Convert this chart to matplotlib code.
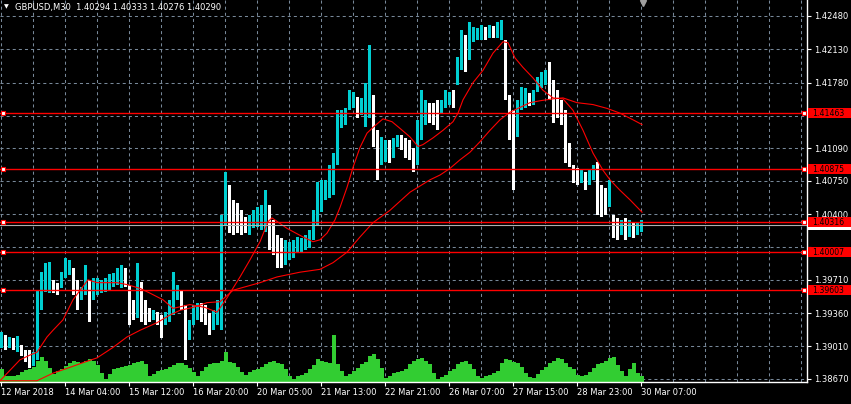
import matplotlib
matplotlib.use("Agg")
import matplotlib.pyplot as plt
from matplotlib.patches import Rectangle
import numpy as np

plt.rcParams['lines.scale_dashes'] = False
plt.rcParams['font.family'] = ['DejaVu Sans']

# GBPUSD M30 - one sample every 4 bars (high / low of the candles)
high = [1.3916, 1.3913, 1.3911, 1.3910, 1.3912, 1.3903, 1.3897, 1.3897, 1.3895, 1.3960,
        1.3979, 1.3989, 1.3990, 1.3971, 1.3968, 1.3979, 1.3994, 1.3992, 1.3983, 1.3971,
        1.3963, 1.3987, 1.3971, 1.3973, 1.3973, 1.3971, 1.3973, 1.3977, 1.3978, 1.3983,
        1.3987, 1.3983, 1.3966, 1.3950, 1.3989, 1.3969, 1.3950, 1.3941, 1.3939, 1.3937,
        1.3934, 1.3937, 1.3950, 1.3979, 1.3966, 1.3960, 1.3945, 1.3929, 1.3945, 1.3947,
        1.3947, 1.3945, 1.3936, 1.3939, 1.3950, 1.4039, 1.4084, 1.4071, 1.4055, 1.4052,
        1.4044, 1.4037, 1.4039, 1.4044, 1.4047, 1.4050, 1.4065, 1.4050, 1.4034, 1.4018,
        1.4015, 1.4013, 1.4011, 1.4013, 1.4016, 1.4015, 1.4018, 1.4023, 1.4044, 1.4074,
        1.4076, 1.4076, 1.4092, 1.4104, 1.4149, 1.4149, 1.4151, 1.4170, 1.4168, 1.4163,
        1.4162, 1.4178, 1.4218, 1.4165, 1.4128, 1.4121, 1.4118, 1.4118, 1.4120, 1.4123,
        1.4123, 1.4120, 1.4118, 1.4109, 1.4139, 1.4170, 1.4160, 1.4157, 1.4157, 1.4160,
        1.4160, 1.4170, 1.4168, 1.4170, 1.4205, 1.4233, 1.4228, 1.4242, 1.4236, 1.4235,
        1.4239, 1.4236, 1.4239, 1.4238, 1.4242, 1.4244, 1.4223, 1.4165, 1.4149, 1.4160,
        1.4173, 1.4172, 1.4167, 1.4170, 1.4184, 1.4189, 1.4191, 1.4200, 1.4181, 1.4170,
        1.4160, 1.4149, 1.4115, 1.4092, 1.4088, 1.4086, 1.4084, 1.4086, 1.4092, 1.4095,
        1.4071, 1.4067, 1.4076, 1.4039, 1.4036, 1.4034, 1.4036, 1.4034, 1.4032, 1.4032,
        1.4034]
low = [1.3899, 1.3897, 1.3899, 1.3897, 1.3895, 1.3891, 1.3885, 1.3878, 1.3880, 1.3887,
       1.3939, 1.3958, 1.3957, 1.3957, 1.3955, 1.3962, 1.3973, 1.3976, 1.3955, 1.3939,
       1.3950, 1.3955, 1.3927, 1.3950, 1.3955, 1.3957, 1.3958, 1.3960, 1.3963, 1.3966,
       1.3962, 1.3963, 1.3924, 1.3929, 1.3931, 1.3927, 1.3924, 1.3927, 1.3929, 1.3924,
       1.3910, 1.3924, 1.3927, 1.3934, 1.3950, 1.3939, 1.3887, 1.3908, 1.3924, 1.3929,
       1.3927, 1.3924, 1.3913, 1.3918, 1.3924, 1.3918, 1.4029, 1.4020, 1.4018, 1.4020,
       1.4018, 1.4020, 1.4018, 1.4025, 1.4026, 1.4023, 1.4021, 1.4002, 1.3997, 1.3983,
       1.3983, 1.3987, 1.3992, 1.3994, 1.3999, 1.4000, 1.4002, 1.4004, 1.4013, 1.4029,
       1.4042, 1.4055, 1.4057, 1.4060, 1.4092, 1.4130, 1.4134, 1.4149, 1.4151, 1.4141,
       1.4144, 1.4131, 1.4141, 1.4110, 1.4076, 1.4092, 1.4095, 1.4094, 1.4099, 1.4110,
       1.4107, 1.4099, 1.4097, 1.4084, 1.4092, 1.4118, 1.4134, 1.4136, 1.4134, 1.4128,
       1.4146, 1.4151, 1.4155, 1.4151, 1.4176, 1.4191, 1.4189, 1.4202, 1.4221, 1.4223,
       1.4223, 1.4223, 1.4225, 1.4225, 1.4225, 1.4223, 1.4160, 1.4118, 1.4065, 1.4121,
       1.4149, 1.4151, 1.4153, 1.4155, 1.4168, 1.4172, 1.4176, 1.4160, 1.4136, 1.4141,
       1.4134, 1.4094, 1.4089, 1.4073, 1.4071, 1.4073, 1.4065, 1.4071, 1.4076, 1.4039,
       1.4037, 1.4039, 1.4047, 1.4015, 1.4013, 1.4018, 1.4013, 1.4016, 1.4015, 1.4018,
       1.4021]
volume = [1260, 580, 600, 650, 750, 1000, 1200, 1300, 1500, 2100,
          2500, 2100, 1400, 800, 1100, 1300, 1600, 1900, 2100, 2000,
          1900, 2100, 2300, 2100, 1700, 900, 300, 850, 1260, 1400,
          1500, 1600, 1700, 1900, 2000, 2100, 1800, 600, 850, 1100,
          1200, 1300, 1500, 1700, 1900, 1950, 1700, 1400, 1000, 600,
          1100, 1500, 1770, 1900, 1950, 2100, 3000, 2000, 1900, 1500,
          1000, 750, 1000, 1200, 1300, 1500, 1770, 2000, 2100, 1950,
          1770, 1260, 600, 300, 650, 750, 900, 1260, 1700, 2300,
          2100, 2000, 1950, 4700, 1770, 1100, 600, 850, 1100, 1400,
          1770, 2000, 2600, 2800, 2300, 1400, 400, 600, 900, 1000,
          1100, 1300, 1770, 2100, 2300, 2400, 2100, 1770, 900, 300,
          500, 750, 1100, 1300, 1770, 2000, 2100, 1770, 1300, 650,
          400, 600, 750, 900, 1100, 1900, 2300, 2200, 2000, 1900,
          1500, 900, 500, 400, 850, 1200, 1500, 1900, 2100, 2400,
          2300, 1900, 1500, 1260, 750, 600, 750, 1000, 1400, 1770,
          1950, 2100, 2400, 2460, 1700, 1100, 600, 1260, 1950, 900,
          650]

# moving averages (bar number, price)
fast_bar = [0, 10, 20, 30, 37, 47, 53, 63, 73, 80, 88, 97, 117, 127, 140, 150, 163, 173, 190, 205,
            217, 227, 240, 250, 260, 268, 272, 287, 303, 313, 320, 327, 335, 340, 347, 353, 360, 367,
            373, 383, 392, 400, 410, 418, 423, 433, 443, 453, 458, 463, 473, 483, 493, 503, 508, 515,
            523, 533, 543, 553, 563, 573, 583, 593, 603, 610, 620, 630, 642]
fast_ma = [1.3865, 1.3876, 1.3887, 1.3892, 1.3895, 1.3911, 1.3918, 1.3929, 1.3950, 1.3960,
           1.3971, 1.3968, 1.3968, 1.3966, 1.3962, 1.3957, 1.3950, 1.3941, 1.3945, 1.3942,
           1.3937, 1.3952, 1.3974, 1.3992, 1.4011, 1.4032, 1.4036, 1.4025, 1.4016, 1.4011,
           1.4013, 1.4020, 1.4034, 1.4047, 1.4068, 1.4089, 1.4110, 1.4125, 1.4131, 1.4140,
           1.4137, 1.4130, 1.4121, 1.4111, 1.4113, 1.4120, 1.4128, 1.4137, 1.4146, 1.4160,
           1.4178, 1.4191, 1.4209, 1.4221, 1.4220, 1.4204, 1.4194, 1.4183, 1.4170, 1.4162,
           1.4161, 1.4149, 1.4128, 1.4104, 1.4086, 1.4076, 1.4065, 1.4055, 1.4042]
slow_bar = [0, 37, 53, 67, 83, 97, 113, 127, 140, 157, 170, 180, 193, 207, 220, 233, 243, 260, 277,
            300, 320, 333, 347, 360, 373, 390, 410, 430, 440, 450, 460, 470, 480, 490, 500, 510,
            520, 530, 540, 553, 563, 577, 593, 607, 620, 633, 642]
slow_ma = [1.3865, 1.3865, 1.3873, 1.3878, 1.3884, 1.3889, 1.3900, 1.3911, 1.3918, 1.3926,
           1.3934, 1.3939, 1.3942, 1.3947, 1.3948, 1.3960, 1.3963, 1.3968, 1.3974, 1.3979,
           1.3982, 1.3989, 1.4000, 1.4016, 1.4031, 1.4044, 1.4063, 1.4076, 1.4081, 1.4088,
           1.4097, 1.4105, 1.4116, 1.4128, 1.4139, 1.4147, 1.4152, 1.4157, 1.4159, 1.4161,
           1.4162, 1.4157, 1.4155, 1.4151, 1.4146, 1.4139, 1.4134]

levels = [1.41463, 1.40875, 1.40316, 1.40007, 1.39603]
bid = 1.40290
price_ticks = [1.42480, 1.42130, 1.41780, 1.41430, 1.41090, 1.40750, 1.40400,
               1.40050, 1.39710, 1.39360, 1.39010, 1.38670]
hidden_ticks = [1.41430, 1.40050]   # covered by the level labels
time_labels = ['12 Mar 2018', '14 Mar 04:00', '15 Mar 12:00', '16 Mar 20:00',
               '20 Mar 05:00', '21 Mar 13:00', '22 Mar 21:00', '26 Mar 07:00',
               '27 Mar 15:00', '28 Mar 23:00', '30 Mar 07:00']
title = 'GBPUSD,M30  1.40294 1.40333 1.40276 1.40290'

W, H = 851, 404
fig = plt.figure(figsize=(W / 100, H / 100), dpi=100, facecolor='black')
rect = [0, 22 / H, 807 / W, 382 / H]
xmax = 807
ymin, ymax = 1.38637, 1.42648
grid_col = '#778899'
dash = (0, (2.2, 2.2))

# grid (bottom layer)
gax = fig.add_axes(rect)
gax.set_facecolor('black')
gax.set_xlim(0, xmax)
gax.set_ylim(ymin, ymax)
gax.axis('off')
for x in range(1, xmax, 32):
    gax.axvline(x, color=grid_col, lw=0.75, ls=dash)
for p in price_ticks:
    gax.axhline(p, color=grid_col, lw=0.75, ls=dash)

# volumes
vax = fig.add_axes(rect)
vax.patch.set_alpha(0)
vax.set_xlim(0, xmax)
vax.set_ylim(0, 38200)
vax.axis('off')
n = len(high)
left = np.arange(n) * 4
vax.bar(left, volume, width=4, align='edge', color='#32CD32', linewidth=0)

# candles
ax = fig.add_axes(rect)
ax.patch.set_alpha(0)
ax.set_xlim(0, xmax)
ax.set_ylim(ymin, ymax)
hi = np.array(high)
lo = np.array(low)
mid = (hi + lo) / 2
cols = ['#00CED1' if i == 0 or mid[i] >= mid[i - 1] else 'white' for i in range(n)]
ax.bar(left, hi - lo, bottom=lo, width=3, align='edge', color=cols, linewidth=0, zorder=2)

ax.plot(fast_bar, fast_ma, color='#FF0000', lw=0.8, zorder=3)
ax.plot(slow_bar, slow_ma, color='#FF0000', lw=0.8, zorder=3)

ax.axhline(bid, color='#B0B0B0', lw=0.8, zorder=3)
for lv in levels:
    ax.axhline(lv, color='#FF0000', lw=1.0, zorder=4)
    ax.plot([3, 804], [lv, lv], 's', ms=3.5, mfc='white', mec='#FF0000', mew=0.8,
            zorder=5, clip_on=False)

# axes, ticks
for s in ['left', 'top']:
    ax.spines[s].set_visible(False)
for s in ['right', 'bottom']:
    ax.spines[s].set_color('white')
    ax.spines[s].set_linewidth(1)
ax.yaxis.tick_right()
ax.set_yticks(price_ticks)
ax.set_yticklabels(['' if p in hidden_ticks else f'{p:.5f}' for p in price_ticks])
ax.set_xticks(np.arange(len(time_labels)) * 64 + 1)
ax.set_xticklabels(time_labels, ha='left')
ax.tick_params(axis='y', colors='white', labelsize=6, length=3, width=0.8, pad=2)
ax.tick_params(axis='x', colors='white', labelsize=6, length=3, width=0.8, pad=1.5)

# price labels on the scale
px = (ymax - ymin) / 382
ax.add_patch(Rectangle((808, bid - 5 * px), 43, 10 * px, fc='white', ec='none',
                       clip_on=False, zorder=6))
for lv in levels:
    ax.add_patch(Rectangle((808, lv - 5 * px), 43, 10 * px, fc='#FF0000', ec='none',
                           clip_on=False, zorder=7))
    ax.text(812, lv - 0.5 * px, f'{lv:.5f}', color='black', fontsize=5.6, va='center',
            ha='left', clip_on=False, zorder=8)

# chart shift marker and title
ax.plot([643], [ymax - 3 * px], marker='v', ms=5, color='#A0A0A0', clip_on=False, zorder=6)
fig.text(4 / W, 1 - 7 / H, '\u25bc', color='white', fontsize=4.5, va='center', ha='left')
fig.text(15 / W, 1 - 7.5 / H, title, color='white', fontsize=6, va='center', ha='left')

fig.savefig('out.png', dpi=100, facecolor='black')
